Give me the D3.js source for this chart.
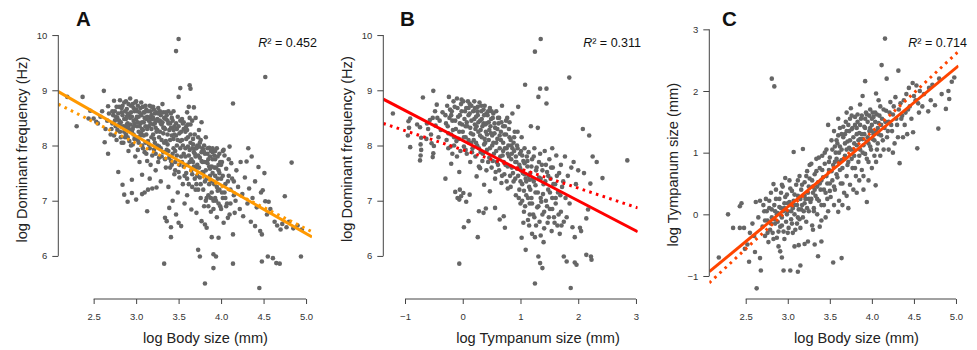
<!DOCTYPE html>
<html>
<head>
<meta charset="utf-8">
<script src="https://cdn.jsdelivr.net/npm/d3@7"></script>
<style>
  html, body { margin: 0; padding: 0; background: #fff; }
  svg { display: block; font-family: "Liberation Sans", Arial, Helvetica, sans-serif; }
</style>
</head>
<body>
<svg id="chart" width="977" height="350"></svg>
<script>
// ---------------- DATA ----------------
const panelLabels = ["A", "B", "C"];
const xTitles = ["log Body size (mm)", "log Tympanum size (mm)", "log Body size (mm)"];
const yTitles = ["log Dominant frequency (Hz)", "log Dominant frequency (Hz)", "log Tympanum size (mm)"];
const r2Values = ["0.452", "0.311", "0.714"];

const xTicksA = [2.5, 3.0, 3.5, 4.0, 4.5, 5.0];
const yTicksA = [6, 7, 8, 9, 10];
const xTicksB = [-1, 0, 1, 2, 3];
const yTicksB = [6, 7, 8, 9, 10];
const xTicksC = [2.5, 3.0, 3.5, 4.0, 4.5, 5.0];
const yTicksC = [-1, 0, 1, 2, 3];

// fitted lines: [intercept, slope]
const fitSolidA = [10.811, -0.881];
const fitDottedA = [10.362, -0.774];
const fitSolidB = [8.090, -0.545];
const fitDottedB = [7.922, -0.347];
const fitSolidC = [-3.26, 1.127];
const fitDottedC = [-3.727, 1.266];

// points: [x, y]
const pointsA = [
[2.19,8.88],[2.37,8.88],[2.30,8.35],[2.46,8.63],[2.44,8.49],[2.50,8.49],[2.53,8.43],[2.55,8.40],[2.58,8.52],[2.62,8.99],[2.60,8.62],[2.63,8.06],[2.67,7.85],[2.64,8.30],[2.66,8.45],[2.68,8.58],[2.67,8.71],[2.70,8.20],[2.72,8.40],[2.74,8.81],[2.73,8.55],[2.75,8.62],[2.76,8.35],[2.78,8.50],[2.77,8.10],[2.79,7.52],[2.80,8.70],[2.81,8.25],[2.82,8.42],[2.83,8.60],[2.84,7.29],[2.85,8.05],[2.86,8.78],[2.86,7.11],[2.87,8.32],[2.88,8.48],[2.89,8.66],[2.90,6.98],[2.90,8.15],[2.91,7.90],[2.92,8.55],[2.93,8.38],[2.94,8.72],[2.95,7.38],[2.95,7.14],[2.95,8.25],[2.96,8.02],[2.97,8.45],[2.98,8.62],[2.99,7.80],[3.00,7.02],[3.00,8.80],[3.01,8.35],[3.02,8.10],[3.03,8.52],[3.04,7.70],[3.05,8.68],[3.06,8.22],[3.07,7.47],[3.07,7.12],[3.08,7.95],[3.09,8.42],[3.10,7.15],[3.10,8.60],[3.11,8.05],[3.12,7.85],[3.13,8.30],[3.13,6.81],[3.14,7.20],[3.15,8.50],[3.16,7.40],[3.16,8.72],[3.17,7.65],[3.18,8.15],[3.19,7.22],[3.20,8.38],[3.21,7.92],[3.22,8.58],[3.23,7.55],[3.24,7.24],[3.24,8.25],[3.25,8.00],[3.26,8.68],[3.27,7.78],[3.28,8.45],[3.29,7.35],[3.30,8.10],[3.31,8.75],[3.32,7.88],[3.33,5.86],[3.33,8.32],[3.34,6.69],[3.35,7.60],[3.36,6.63],[3.36,8.55],[3.37,8.02],[3.38,7.25],[3.39,6.87],[3.40,8.40],[3.41,6.52],[3.41,6.34],[3.41,7.72],[3.42,8.18],[3.43,7.00],[3.44,8.62],[3.45,7.48],[3.46,7.90],[3.47,9.71],[3.47,6.75],[3.48,8.30],[3.49,7.15],[3.50,9.93],[3.50,8.88],[3.50,6.60],[3.51,7.65],[3.52,9.04],[3.52,8.08],[3.53,6.54],[3.54,8.48],[3.55,7.30],[3.56,7.85],[3.57,6.95],[3.58,8.25],[3.59,7.50],[3.60,8.60],[3.60,7.10],[3.61,7.98],[3.62,8.70],[3.63,9.09],[3.64,9.03],[3.63,7.70],[3.64,8.38],[3.65,6.84],[3.66,7.25],[3.67,8.12],[3.68,8.69],[3.68,7.88],[3.69,7.40],[3.70,8.50],[3.71,6.78],[3.71,7.60],[3.72,8.00],[3.73,6.11],[3.73,7.20],[3.74,8.28],[3.75,5.99],[3.75,7.78],[3.76,7.05],[3.77,6.63],[3.77,8.42],[3.78,7.52],[3.79,7.92],[3.80,6.90],[3.81,5.50],[3.81,6.57],[3.81,7.35],[3.82,8.15],[3.83,6.51],[3.83,7.70],[3.84,7.85],[3.85,7.10],[3.86,7.96],[3.87,7.45],[3.88,6.80],[3.89,6.34],[3.89,7.62],[3.90,7.88],[3.91,6.03],[3.91,5.78],[3.91,7.00],[3.92,7.30],[3.93,7.75],[3.94,5.99],[3.95,7.95],[3.95,6.70],[3.96,7.18],[3.97,6.33],[3.97,7.55],[3.98,7.85],[3.99,6.90],[4.00,7.40],[4.01,7.70],[4.02,7.05],[4.03,6.60],[4.04,7.82],[4.05,7.30],[4.06,7.58],[4.07,6.95],[4.08,6.69],[4.09,7.45],[4.10,7.98],[4.10,6.75],[4.11,7.20],[4.12,7.68],[4.14,8.76],[4.14,6.39],[4.14,5.86],[4.15,7.35],[4.16,6.78],[4.17,7.00],[4.18,7.55],[4.20,7.25],[4.22,6.85],[4.23,7.70],[4.25,7.12],[4.26,6.72],[4.28,7.42],[4.30,7.71],[4.31,6.95],[4.32,7.95],[4.33,7.22],[4.35,6.62],[4.36,7.80],[4.37,7.05],[4.40,6.54],[4.40,7.35],[4.42,6.88],[4.44,7.61],[4.45,5.42],[4.46,6.45],[4.47,7.15],[4.48,6.39],[4.48,5.90],[4.49,7.19],[4.51,7.50],[4.52,9.24],[4.52,6.99],[4.54,6.75],[4.55,5.99],[4.56,6.98],[4.58,6.85],[4.61,5.96],[4.63,6.62],[4.65,5.87],[4.66,6.55],[4.69,5.86],[4.70,6.48],[4.72,6.58],[4.75,7.08],[4.77,6.52],[4.80,6.62],[4.83,7.69],[4.85,6.50],[4.90,6.55],[4.94,5.99],[4.95,6.48],
[2.80,8.45],[2.82,8.15],[2.84,8.55],[2.85,8.35],[2.87,8.62],[2.88,8.20],[2.90,8.40],[2.91,8.75],[2.92,8.08],[2.93,8.50],[2.96,8.30],[2.97,8.68],[2.98,8.12],[3.00,8.48],[3.01,8.62],[3.02,7.92],[3.03,8.25],[3.05,8.40],[3.06,8.55],[3.07,8.00],[3.08,8.70],[3.09,8.18],[3.11,8.35],[3.12,8.48],[3.13,7.72],[3.14,8.62],[3.15,8.02],[3.17,8.40],[3.18,8.55],[3.19,7.82],[3.20,8.20],[3.21,8.65],[3.22,8.05],[3.23,8.32],[3.25,8.48],[3.26,7.70],[3.27,8.15],[3.28,8.62],[3.29,7.95],[3.30,8.38],[3.32,8.22],[3.33,8.50],[3.34,7.75],[3.35,8.08],[3.37,8.45],[3.38,7.90],[3.39,8.28],[3.40,7.60],[3.42,8.50],[3.43,7.85],[3.44,8.12],[3.45,8.35],[3.46,7.70],[3.48,8.00],[3.49,8.52],[3.50,7.52],[3.51,8.22],[3.53,7.80],[3.54,8.10],[3.55,8.40],[3.56,7.62],[3.58,7.95],[3.59,8.35],[3.60,7.40],[3.61,8.15],[3.62,7.82],[3.64,8.05],[3.65,7.55],[3.66,8.45],[3.67,7.70],[3.69,8.20],[3.70,7.95],[3.71,7.30],[3.72,7.65],[3.74,7.98],[3.75,7.42],[3.76,8.10],[3.78,7.70],[3.79,7.20],[3.80,7.88],[3.82,7.55],[3.83,7.05],[3.85,7.75],[3.86,7.30],[3.88,7.90],[3.89,7.15],[3.90,7.50],[3.92,7.82],[3.93,7.05],[3.94,7.60],[3.96,7.40],[3.98,7.20],[4.00,7.65],[4.02,7.90],[4.04,7.15],
[2.71,8.30],[2.72,8.62],[2.74,8.18],[2.75,8.45],[2.77,8.70],[2.78,8.28],[2.79,8.58],[2.81,8.82],[2.82,8.35],[2.83,8.05],[2.84,8.72],[2.86,8.48],[2.87,8.15],[2.88,8.80],[2.89,8.38],[2.90,8.58],[2.92,8.28],[2.93,8.85],[2.94,8.00],[2.95,8.52],[2.96,8.75],[2.97,8.20],[2.98,8.40],[2.99,8.78],[3.00,8.15],
[3.01,8.52],[3.02,8.72],[3.03,8.05],[3.04,8.35],[3.05,8.18],[3.06,8.78],[3.07,8.42],[3.08,8.28],[3.09,8.60],[3.10,7.88],[3.11,8.72],[3.12,8.20],[3.13,8.52],[3.14,8.08],[3.15,8.35],[3.16,7.95],[3.17,8.62],[3.18,8.30],[3.19,8.48],[3.20,8.70],[3.21,8.12],[3.22,8.40],[3.23,7.85],[3.24,8.60],[3.25,8.28],[3.26,8.45],[3.27,7.98],[3.28,8.25],[3.29,8.55],[3.30,7.80],[3.31,8.42],[3.32,8.60],[3.33,8.05],[3.34,8.30],[3.35,8.48],[3.36,7.92],[3.37,8.20],[3.38,8.62],[3.39,7.78],[3.40,8.10],
[3.41,8.32],[3.42,7.65],[3.43,8.45],[3.44,7.95],[3.45,8.20],[3.46,7.55],[3.47,8.40],[3.48,7.82],[3.49,8.10],[3.50,8.35],[3.51,7.42],[3.52,7.95],[3.53,8.25],[3.54,7.70],[3.55,8.00],[3.56,8.42],[3.57,7.45],[3.58,7.80],[3.59,8.12],[3.60,7.65],[3.61,8.38],[3.62,7.30],[3.63,7.92],[3.64,8.20],[3.65,7.75],[3.66,7.48],[3.67,8.02],[3.68,7.62],[3.69,7.85],[3.70,7.20],[3.71,7.95],[3.72,7.45],[3.73,7.82],[3.74,7.60],[3.75,8.05],[3.76,7.30],[3.77,7.72],[3.78,7.95],[3.79,7.50],[3.80,7.70],
[3.81,7.85],[3.82,7.00],[3.83,7.40],[3.84,7.95],[3.85,6.90],[3.86,7.62],[3.87,7.80],[3.88,7.05],[3.89,7.35],[3.90,7.95],[3.91,6.85],[3.92,7.60],[3.93,7.90],[3.94,7.00],[3.95,7.25],[3.96,7.80],[3.97,6.95],[3.98,7.50],[3.99,7.70],[4.00,6.85],[4.01,7.15],[4.02,7.45],[4.03,7.92],[4.05,7.05],[4.06,6.90],[4.08,7.35],[4.09,7.75],[4.11,6.95],[4.13,7.40],[4.15,7.10],
[2.76,8.52],[2.80,8.38],[2.83,8.68],[2.86,8.25],[2.89,8.52],[2.91,8.32],[2.94,8.60],[2.97,8.35],[3.00,8.65],[3.02,8.42],[3.04,8.60],[3.07,8.30],[3.10,8.50],[3.12,8.65],[3.15,8.45],[3.18,8.70],[3.20,8.50],[3.23,8.45],[3.26,8.58],[3.29,8.40],[3.32,8.32],[3.35,8.60],[3.38,8.40],[3.41,8.58],[3.44,8.28],[3.47,8.18],[3.52,8.45],[3.56,8.30],[3.60,8.28],[3.63,8.50],[3.66,7.95],[3.70,7.80],[3.73,8.15],[3.77,7.88],[3.80,8.00],[3.84,7.68],[3.87,7.58],[3.90,7.75],[3.93,7.45],[3.97,7.65]
];

const pointsB = [
[-1.21,8.58],[-0.91,8.49],[-0.94,8.44],[-0.93,8.32],[-0.95,8.18],[-0.91,7.97],[-0.69,8.87],[-0.51,8.99],[-0.79,8.38],[-0.74,8.33],[-0.72,8.14],[-0.73,8.02],[-0.72,7.92],[-0.73,7.82],[-0.74,7.73],[-0.63,8.12],[-0.54,8.04],[-0.50,7.99],[-0.51,7.86],[-0.52,7.79],[-0.45,8.74],[-0.48,8.62],[-0.44,8.50],[-0.52,8.50],[-0.57,8.46],[-0.62,8.40],[-0.60,8.30],[-0.55,8.20],[-0.47,8.36],[-0.40,8.45],[-0.38,8.28],[-0.42,8.15],[-0.35,8.60],[-0.30,7.40],[-0.24,8.88],[-0.20,7.67],[-0.18,7.85],[-0.10,8.85],[-0.02,8.83],[-0.06,7.52],
[-0.13,7.16],[-0.05,7.20],[0.01,7.14],[-0.09,7.05],[-0.03,7.08],[-0.06,7.02],[0.12,7.11],[0.06,6.98],[0.02,6.52],[0.10,6.63],[0.26,6.34],[-0.06,5.86],[0.28,6.81],[0.36,6.78],[0.40,6.86],[0.56,6.87],[0.64,6.66],[0.71,6.72],[0.73,6.51],[0.30,7.59],[0.24,7.44],[0.37,7.29],[0.47,7.17],
[-0.30,8.55],[-0.28,8.10],[-0.26,8.35],[-0.25,7.95],[-0.22,8.65],[-0.20,8.20],[-0.18,8.45],[-0.15,8.00],[-0.14,8.70],[-0.12,8.30],[-0.10,7.80],[-0.08,8.52],[-0.07,8.12],[-0.05,8.40],[-0.04,7.90],[-0.02,8.62],[0.00,8.25],[0.01,8.80],[0.02,7.98],[0.03,8.48],[0.05,8.15],[0.06,8.68],[0.07,7.85],[0.08,8.35],[0.10,8.55],[0.11,8.05],[0.12,8.75],[0.13,7.70],[0.14,8.22],[0.15,8.45],[0.17,7.95],[0.18,8.62],[0.19,8.10],[0.20,8.80],[0.21,8.38],[0.22,7.80],[0.23,8.52],[0.25,8.00],[0.26,8.70],[0.27,8.25],[0.28,7.62],[0.30,8.45],[0.31,7.88],[0.32,8.62],[0.33,8.15],[0.34,7.72],[0.36,8.40],[0.37,8.02],[0.38,8.72],[0.40,8.25],[0.41,7.55],[0.42,7.92],[0.43,8.55],[0.45,8.10],[0.46,7.78],[0.47,8.68],[0.48,8.35],[0.50,7.60],[0.51,8.00],[0.52,8.50],[0.54,7.85],[0.55,8.22],[0.56,7.40],[0.58,8.62],[0.59,7.70],[0.60,8.12],[0.62,8.40],[0.63,7.55],[0.64,7.95],[0.66,8.25],[0.67,7.32],[0.68,8.72],[0.69,7.82],[0.70,8.05],[0.72,7.48],[0.73,8.35],[0.74,7.65],[0.76,7.95],[0.77,8.50],[0.78,7.22],[0.80,7.80],[0.81,8.15],[0.82,7.45],[0.84,8.00],[0.85,7.60],[0.86,8.58],[0.88,7.35],[0.89,7.90],[0.90,8.25],
[0.92,7.10],[0.93,7.70],[0.94,8.00],[0.96,8.70],[0.96,7.45],[0.98,7.20],[0.99,7.85],[1.00,6.95],[1.01,7.55],[1.02,8.15],[1.02,6.33],[1.03,7.30],[1.05,7.72],[1.06,6.80],[1.07,7.95],[1.08,9.10],[1.09,6.11],[1.09,7.40],[1.10,7.10],[1.12,7.62],[1.13,6.65],[1.14,7.88],[1.15,7.25],[1.16,6.95],[1.17,7.50],[1.18,8.35],[1.19,7.05],[1.20,7.75],[1.22,6.75],[1.23,7.35],[1.24,7.95],[1.25,9.70],[1.25,6.34],[1.25,5.50],[1.26,7.15],[1.27,6.55],[1.28,7.60],[1.30,8.32],[1.31,8.88],[1.31,6.90],[1.32,7.42],[1.34,7.85],[1.34,9.03],[1.35,9.93],[1.35,6.37],[1.35,7.05],[1.31,5.99],[1.34,5.87],[1.38,5.78],[1.37,7.65],[1.38,6.75],[1.40,7.30],[1.41,6.50],[1.42,7.90],[1.44,7.00],[1.45,9.03],[1.45,8.76],[1.46,7.52],[1.47,6.60],[1.48,7.20],[1.50,7.75],[1.51,6.85],[1.52,7.40],[1.54,6.45],[1.55,7.05],[1.56,7.60],[1.58,6.70],[1.60,7.30],[1.61,6.95],[1.62,7.82],[1.64,6.55],[1.65,7.15],[1.67,7.50],[1.68,6.40],[1.70,6.80],[1.72,7.25],[1.75,5.99],[1.75,6.62],[1.77,7.80],[1.78,7.05],[1.80,5.90],[1.80,6.70],[1.82,7.45],[1.845,9.23],[1.85,6.95],[1.87,5.42],[1.88,7.60],[1.90,6.52],[1.92,7.70],[1.94,6.34],[1.94,5.88],[1.96,7.30],[1.97,5.84],[2.00,7.55],[2.03,6.51],[2.05,6.45],[2.08,8.30],[2.10,7.50],[2.14,6.68],[2.14,6.02],[2.17,6.84],[2.19,8.18],[2.21,7.31],[2.22,5.99],[2.23,5.93],[2.25,7.80],[2.32,7.70],[2.42,7.41],[2.85,7.73],[1.55,7.95],[1.70,7.65],[1.40,6.25],[1.20,6.40],[1.15,6.55],[1.05,6.60],
[-0.29,8.40],[-0.27,8.72],[-0.25,8.22],[-0.23,8.50],[-0.21,7.98],[-0.19,8.62],[-0.17,8.28],[-0.16,8.80],[-0.13,8.45],[-0.11,8.08],[-0.09,8.68],[-0.06,8.25],[-0.03,8.75],[-0.01,8.38],[0.02,8.15],[0.04,8.62],[0.05,7.92],[0.07,8.42],[0.09,8.80],[0.10,8.10],[0.12,8.58],[0.13,8.32],[0.15,8.72],[0.16,7.88],[0.18,8.20],[0.20,8.48],[0.21,8.68],[0.23,8.05],[0.24,8.35],[0.26,8.55],[0.28,7.95],[0.29,8.78],[0.31,8.28],[0.33,8.48],[0.35,7.85],[0.36,8.65],[0.38,8.12],[0.39,8.38],
[0.41,8.58],[0.42,8.20],[0.44,7.70],[0.45,8.42],[0.47,7.95],[0.49,8.22],[0.50,8.62],[0.52,7.72],[0.53,8.05],[0.55,8.40],[0.57,7.52],[0.58,7.90],[0.60,8.30],[0.61,7.65],[0.63,8.50],[0.65,7.80],[0.66,8.10],[0.68,7.45],[0.70,8.35],[0.71,7.70],[0.73,7.95],[0.75,8.20],[0.76,7.35],[0.78,7.62],[0.79,8.00],[0.81,8.42],[0.83,7.25],[0.84,7.75],[0.86,7.95],[0.87,7.50],[0.89,8.15],[0.91,7.40],[0.92,7.80],[0.94,7.58],[0.95,8.25],[0.97,7.05],[0.98,7.65],
[1.00,7.35],[1.01,7.90],[1.03,7.00],[1.04,7.50],[1.06,7.18],[1.07,7.68],[1.08,6.90],[1.10,7.35],[1.11,7.80],[1.13,7.05],[1.14,7.45],[1.16,6.75],[1.17,7.20],[1.19,7.62],[1.20,6.95],[1.21,7.40],[1.23,7.80],[1.24,6.70],[1.26,7.28],[1.27,7.55],[1.29,6.88],[1.30,7.15],[1.32,7.70],[1.33,6.62],[1.35,7.40],[1.36,6.98],[1.38,7.55],[1.39,7.12],[1.41,6.80],[1.43,7.35],[1.44,7.65],[1.46,6.90],[1.48,7.45],[1.49,6.70],[1.51,7.15],[1.53,7.60],[1.55,6.85],[1.57,7.30],[1.59,6.60],[1.61,7.05],[1.63,7.45],[1.66,6.75],[1.69,7.10],[1.71,6.55],[1.74,7.35],
[0.22,8.30],[0.25,8.62],[0.27,8.42],[0.30,8.18],[0.32,8.72],[0.34,8.35],[0.37,8.55],[0.39,8.05],[0.41,8.40],[0.44,8.62],[0.46,8.28],[0.49,8.48],[0.51,8.18],[0.53,8.58],[0.56,8.32],[0.58,8.05],[0.61,8.50],[0.64,8.18],[0.67,8.42],[0.70,7.90],[0.72,8.20],[0.75,8.45],[0.78,7.85],[0.80,8.30],[0.83,8.10],[0.85,7.85],[0.88,8.05],[0.91,7.70],[0.95,7.95],[0.99,7.60],[1.03,7.82],[1.07,7.48],[1.12,7.72],[1.16,7.38],[-0.05,8.55],[0.05,8.35],[0.10,8.68],[0.15,8.05],[-0.15,8.15],[-0.20,8.55]
];

const pointsC = [
[2.18,-0.70],[2.29,0.00],[2.35,-0.22],[2.43,-0.22],[2.48,-0.22],[2.43,0.13],[2.45,0.18],[2.63,-1.20],[2.54,-0.77],[2.61,-0.61],[2.67,-0.71],[2.68,-0.91],[2.49,-0.56],[2.52,-0.49],[2.62,0.20],[2.67,0.22],[2.81,2.20],[2.84,2.075],[2.95,-0.91],[3.03,-0.91],[3.12,-0.93],[3.15,-0.83],[2.93,-0.70],[2.91,-0.60],[2.89,-0.52],[3.08,-0.52],[3.13,-0.50],[3.20,-0.48],[3.24,-0.44],[3.32,-0.49],[3.36,-0.68],[3.40,-0.44],[2.83,0.49],[2.93,0.48],[2.97,0.59],[3.07,1.01],[3.18,1.06],[3.54,-0.78],[3.64,-0.71],[2.58,-0.15],[2.60,-0.35],[2.65,-0.05],[2.55,-0.30],
[2.70,-0.20],[2.72,0.05],[2.73,-0.35],[2.74,0.25],[2.76,-0.10],[2.77,-0.45],[2.78,0.10],[2.79,-0.25],[2.80,0.35],[2.81,-0.05],[2.82,-0.30],[2.84,0.15],[2.85,-0.15],[2.86,0.40],[2.87,-0.38],[2.88,0.02],[2.90,0.25],[2.91,-0.20],[2.92,0.10],[2.93,-0.05],[2.94,0.45],[2.95,-0.28],[2.96,0.18],[2.98,-0.12],[2.99,0.32],[3.00,0.05],[3.01,-0.22],[3.02,0.55],[3.03,0.15],[3.04,-0.08],[3.05,0.38],[3.06,-0.30],[3.07,0.22],[3.08,0.00],[3.10,0.48],[3.11,-0.15],[3.12,0.30],[3.13,0.08],[3.14,0.62],[3.15,-0.22],[3.16,0.40],[3.17,0.15],[3.18,-0.05],[3.20,0.52],[3.21,0.25],[3.22,-0.12],[3.23,0.70],[3.24,0.35],[3.25,0.05],[3.26,0.58],[3.27,0.20],[3.28,0.82],[3.29,-0.18],[3.30,0.45],[3.31,0.10],[3.32,0.65],[3.33,0.30],[3.34,0.90],[3.35,0.00],[3.36,0.52],[3.37,0.22],[3.38,0.75],[3.39,0.40],[3.40,-0.10],[3.41,0.95],[3.42,0.60],[3.43,0.15],[3.44,0.82],[3.45,0.35],[3.46,1.05],[3.47,0.50],[3.48,0.05],[3.49,0.72],[3.50,0.92],[3.51,0.28],[3.52,1.20],[3.53,0.55],[3.54,0.80],[3.55,1.35],
[3.56,0.40],[3.57,1.00],[3.58,0.65],[3.59,1.15],[3.60,0.04],[3.61,0.22],[3.61,0.85],[3.62,1.40],[3.63,0.50],[3.64,1.05],[3.65,0.75],[3.66,1.25],[3.67,0.35],[3.68,0.95],[3.69,1.50],[3.70,0.62],[3.71,1.18],[3.72,0.85],[3.73,1.35],[3.74,0.48],[3.75,1.05],[3.76,1.60],[3.77,0.75],[3.78,1.25],[3.79,0.95],[3.80,1.45],[3.81,0.62],[3.82,1.12],[3.83,1.62],[3.84,0.85],[3.85,1.32],[3.86,1.05],[3.87,1.55],[3.88,0.72],[3.89,1.92],[3.89,1.22],[3.90,0.40],[3.91,1.42],[3.92,2.16],[3.92,0.98],[3.93,1.65],[3.94,0.20],[3.94,1.18],[3.95,1.50],[3.96,0.85],[3.97,1.35],[3.98,1.70],[3.99,1.05],[4.00,1.45],[4.01,1.22],[4.02,1.58],[4.03,0.95],[4.045,0.47],[4.05,1.96],[4.05,1.35],[4.06,1.62],[4.07,1.15],[4.08,1.48],[4.10,1.75],[4.11,1.28],[4.116,2.42],[4.12,1.55],[4.14,1.05],[4.15,1.40],[4.156,2.85],[4.176,2.20],[4.17,1.68],[4.18,1.25],[4.20,1.50],[4.22,1.82],[4.24,1.35],[4.25,1.62],[4.27,1.15],[4.28,1.90],[4.30,1.45],[4.315,2.33],[4.33,0.83],[4.32,1.70],[4.35,1.55],[4.37,1.25],[4.38,1.85],[4.40,1.65],[4.42,1.30],[4.44,2.05],[4.45,1.75],[4.485,2.13],[4.49,1.33],[4.50,1.92],[4.53,2.09],[4.54,1.07],[4.55,1.80],[4.57,2.00],[4.60,1.75],[4.62,1.95],[4.67,1.67],[4.68,2.05],[4.70,1.85],[4.72,2.10],[4.75,1.77],[4.79,1.39],[4.80,2.20],[4.83,1.95],[4.88,1.71],[4.91,2.00],[4.92,1.87],[4.95,2.15],[4.98,2.22],
[3.65,0.15],[3.70,0.30],[3.72,0.10],[3.78,0.40],[3.82,0.35],[3.85,0.55],[3.90,0.62],[3.96,0.55],[4.00,0.75],[4.05,0.85],[4.10,0.95],[4.20,1.05],[4.25,1.00],[3.55,0.15],[3.50,0.38],[3.45,-0.05],[3.38,-0.20],[3.30,-0.25],[3.48,1.45],[3.60,1.55],[3.70,1.65],[3.75,1.72],[3.86,1.78],[4.08,1.85],
[2.71,0.15],[2.73,-0.10],[2.75,0.05],[2.76,-0.30],[2.78,0.22],[2.80,-0.15],[2.81,0.08],[2.83,-0.40],[2.84,-0.08],[2.86,0.25],[2.87,0.00],[2.89,-0.28],[2.90,0.12],[2.92,0.35],[2.93,-0.18],[2.95,0.05],[2.96,-0.40],[2.97,0.28],[2.99,0.00],[3.00,-0.30],[3.02,0.20],[3.03,0.42],[3.05,-0.15],[3.06,0.10],[3.08,0.32],[3.09,-0.25],[3.11,0.15],[3.12,0.55],[3.14,-0.08],[3.15,0.25],[3.17,0.48],[3.19,0.05],
[3.20,0.30],[3.22,0.62],[3.23,0.10],[3.25,0.45],[3.26,0.80],[3.28,0.25],[3.29,0.55],[3.31,0.05],[3.32,0.40],[3.34,0.70],[3.35,0.25],[3.37,0.92],[3.38,0.50],[3.40,0.15],[3.41,0.72],[3.43,0.40],[3.44,1.00],[3.46,0.62],[3.47,0.25],[3.49,0.85],[3.50,0.50],[3.52,0.70],[3.53,1.05],[3.55,0.45],[3.56,0.85],[3.58,1.20],[3.59,0.60],[3.61,1.00],[3.62,0.72],[3.64,1.30],[3.65,0.50],[3.67,0.90],[3.68,1.15],
[3.70,1.35],[3.71,0.80],[3.73,1.08],[3.74,1.55],[3.76,0.90],[3.77,1.40],[3.79,1.15],[3.80,0.75],[3.82,1.30],[3.83,1.50],[3.85,0.95],[3.86,1.22],[3.88,1.60],[3.89,1.00],[3.91,1.30],[3.92,1.55],[3.94,0.90],[3.95,1.25],[3.97,1.60],[3.98,1.10],[4.00,1.35],[4.01,1.65],[4.03,1.20],[4.04,1.50],[4.06,1.05],[4.08,1.30],[4.09,1.60],[4.11,1.45],[4.13,1.20],[4.14,1.70],[4.16,1.50],[4.19,1.35],[4.21,1.65],[4.23,1.45],[4.26,1.75],[4.29,1.55],[4.31,1.25],[4.34,1.80],[4.36,1.60],[4.39,1.45],[4.41,1.95],[4.43,1.70],[4.47,1.55],[4.52,1.85],[4.56,1.65],
[3.56,1.10],[3.58,0.90],[3.60,1.28],[3.62,1.10],[3.64,0.88],[3.66,1.42],[3.68,1.30],[3.70,1.05],[3.72,1.45],[3.74,1.20],[3.76,1.38],[3.78,1.05],[3.80,1.58],[3.82,1.40],[3.84,1.20],[3.86,1.45],[3.88,1.30],[3.90,1.12],[3.92,1.40],[3.94,1.62],[3.96,1.15],[3.98,1.40],[4.00,1.55],[4.02,1.30],[4.04,1.65],[4.07,1.40],[2.85,0.05],[2.88,-0.12],[2.92,-0.02],[2.96,0.10],[3.00,0.18],[3.04,0.05],[3.08,0.15],[3.12,-0.05],[3.16,0.08],[3.20,0.18],[3.25,0.25],[3.30,0.35],[3.35,0.45],[3.40,0.55]
];

// ---------------- LAYOUT / STYLE ----------------
const pointColor = "#666666";
const lineColors = ["#FF9900", "#FF0000", "#FF4500"];

const panels = [
  { label: panelLabels[0], pts: pointsA, xDom: [2.084, 5.07], yDom: [5.22, 10.11], xRange: [58.3, 312], yRange: [299, 29],
    xTicks: xTicksA, yTicks: yTicksA, xFmt: d3.format(".1f"), yFmt: d3.format("d"),
    solid: fitSolidA, dotted: fitDottedA, color: lineColors[0], r2: r2Values[0],
    xTitle: xTitles[0], yTitle: yTitles[0], labelX: 76, xTitleX: 205.5, yTitleX: 27, yTitleStart: 242.5, r2X: 317 },
  { label: panelLabels[1], pts: pointsB, xDom: [-1.376, 3.03], yDom: [5.22, 10.11], xRange: [383.3, 637.7], yRange: [299, 29],
    xTicks: xTicksB, yTicks: yTicksB, xFmt: d3.format("d"), yFmt: d3.format("d"),
    solid: fitSolidB, dotted: fitDottedB, color: lineColors[1], r2: r2Values[1],
    xTitle: xTitles[1], yTitle: yTitles[1], labelX: 400, xTitleX: 538, yTitleX: 352, yTitleStart: 242, r2X: 641 },
  { label: panelLabels[2], pts: pointsC, xDom: [2.067, 5.03], yDom: [-1.373, 3.012], xRange: [709.3, 958.5], yRange: [299, 28.6],
    xTicks: xTicksC, yTicks: yTicksC, xFmt: d3.format(".1f"), yFmt: d3.format("d"),
    solid: fitSolidC, dotted: fitDottedC, color: lineColors[2], r2: r2Values[2],
    xTitle: xTitles[2], yTitle: yTitles[2], labelX: 722, xTitleX: 856.5, yTitleX: 678, yTitleStart: 246.5, r2X: 967 }
];

const svg = d3.select("#chart");
svg.append("rect").attr("width", 977).attr("height", 350).attr("fill", "#fff");
const defs = svg.append("defs");

panels.forEach((p, i) => {
  const x = d3.scaleLinear().domain(p.xDom).range(p.xRange);
  const y = d3.scaleLinear().domain(p.yDom).range(p.yRange);
  const g = svg.append("g");

  const clipId = "clip" + i;
  defs.append("clipPath").attr("id", clipId).append("rect")
    .attr("x", p.xRange[0]).attr("y", p.yRange[1])
    .attr("width", p.xRange[1] - p.xRange[0]).attr("height", p.yRange[0] - p.yRange[1]);

  // points
  g.append("g").selectAll("circle").data(p.pts).join("circle")
    .attr("cx", d => x(d[0])).attr("cy", d => y(d[1]))
    .attr("r", 2.3).attr("fill", pointColor);

  // fitted lines
  const lines = g.append("g").attr("clip-path", `url(#${clipId})`);
  const fitPts = f => p.xDom.map(v => [v, f[0] + f[1] * v]);
  const lineGen = d3.line().x(d => x(d[0])).y(d => y(d[1]));
  lines.append("path").attr("d", lineGen(fitPts(p.solid)))
    .attr("stroke", p.color).attr("stroke-width", 3).attr("fill", "none");
  lines.append("path").attr("d", lineGen(fitPts(p.dotted)))
    .attr("stroke", p.color).attr("stroke-width", 3).attr("fill", "none")
    .attr("stroke-dasharray", "2.6,4.4");

  // axes
  const axisColor = "#444";
  const xa = g.append("g").attr("transform", `translate(0,${p.yRange[0]})`)
    .call(d3.axisBottom(x).tickValues(p.xTicks).tickFormat(p.xFmt).tickSize(5).tickPadding(9));
  xa.select(".domain").remove();
  xa.append("line").attr("x1", x(p.xTicks[0])).attr("x2", x(p.xTicks[p.xTicks.length - 1]))
    .attr("stroke", axisColor);
  xa.selectAll(".tick line").attr("stroke", axisColor);
  xa.selectAll(".tick text").attr("fill", "#333").style("font-size", "9.5px")
    .style("font-family", "'Liberation Sans', Arial, sans-serif");

  const ya = g.append("g").attr("transform", `translate(${p.xRange[0]},0)`)
    .call(d3.axisLeft(y).tickValues(p.yTicks).tickFormat(p.yFmt).tickSize(6).tickPadding(5));
  ya.select(".domain").remove();
  ya.append("line").attr("y1", y(p.yTicks[0])).attr("y2", y(p.yTicks[p.yTicks.length - 1]))
    .attr("stroke", axisColor);
  ya.selectAll(".tick line").attr("stroke", axisColor);
  ya.selectAll(".tick text").attr("fill", "#333").style("font-size", "9.5px")
    .style("font-family", "'Liberation Sans', Arial, sans-serif");

  // titles
  g.append("text").attr("x", p.xTitleX).attr("y", 343).attr("text-anchor", "middle")
    .style("font-size", "14.6px").attr("fill", "#222").text(p.xTitle);
  g.append("text").attr("transform", `translate(${p.yTitleX},${p.yTitleStart}) rotate(-90)`)
    .attr("text-anchor", "start").style("font-size", "14.6px").attr("fill", "#222").text(p.yTitle);

  // panel label
  g.append("text").attr("x", p.labelX).attr("y", 25.5)
    .style("font-size", "20.5px").style("font-weight", "bold").attr("fill", "#111").text(p.label);

  // R^2
  const r2 = g.append("text").attr("x", p.r2X).attr("y", 46.5).attr("text-anchor", "end")
    .style("font-size", "12.5px").attr("fill", "#111");
  r2.append("tspan").style("font-style", "italic").text("R");
  r2.append("tspan").text("\u00B2 = " + p.r2);
});
</script>
</body>
</html>
